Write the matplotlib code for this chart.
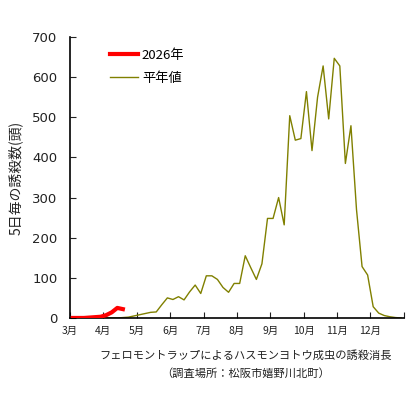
import matplotlib
matplotlib.use("Agg")
import matplotlib.pyplot as plt

plt.rcParams['font.family'] = ['Noto Sans CJK JP', 'DejaVu Sans']

# 半旬(5日)ごと、3月1半旬から12月6半旬まで
months = ['3月', '4月', '5月', '6月', '7月', '8月', '9月', '10月', '11月', '12月']

avg = [0, 0, 0, 0, 0, 0, 0, 0, 0, 1,
       2, 5, 8, 11, 14, 15, 33, 50, 46, 53,
       45, 65, 82, 61, 105, 105, 96, 76, 64, 86,
       86, 155, 125, 96, 135, 248, 248, 300, 232, 504,
       443, 447, 564, 417, 550, 628, 496, 647, 628, 385,
       479, 270, 128, 107, 28, 12, 6, 3, 1, 0]

y2026 = [0, 0, 0, 1, 2, 3, 7, 14, 25, 22]

x_avg = [k + 0.5 for k in range(len(avg))]
x_2026 = [k + 0.5 for k in range(len(y2026))]

fig = plt.figure(figsize=(4.18, 3.94), dpi=100)
ax = fig.add_axes([0.1675, 0.193, 0.7985, 0.713])

ax.plot(x_2026, y2026, color='#ff0000', lw=3.0, label='2026年', zorder=3)
ax.plot(x_avg, avg, color='#808000', lw=1.0, label='平年値', zorder=2)

ax.set_xlim(0, 60)
ax.set_ylim(0, 700)
ax.set_xticks(range(0, 61, 6))
ax.set_xticklabels(months + [''], fontsize=7.5)
ax.set_yticks(range(0, 701, 100))
ax.set_yticklabels([str(v) for v in range(0, 701, 100)], family='DejaVu Sans')
ax.tick_params(axis='y', labelsize=9.5, direction='in', length=4, pad=9, colors='#222222')
ax.tick_params(axis='x', direction='in', length=4, pad=6, colors='#222222')
for s in ['top', 'right']:
    ax.spines[s].set_visible(False)
ax.spines['left'].set_linewidth(1.2)
ax.spines['bottom'].set_linewidth(1.2)

ax.set_ylabel('5日毎の誘殺数(頭)', fontsize=10, color='#222222', labelpad=7)

ax.legend(loc='upper left', bbox_to_anchor=(0.085, 1.0), frameon=False,
          fontsize=9.5, handlelength=2.1, handletextpad=0.3, labelspacing=0.75)

fig.text(0.587, 0.09, 'フェロモントラップによるハスモンヨトウ成虫の誘殺消長',
         ha='center', fontsize=8.1, color='#222222')
fig.text(0.587, 0.043, '（調査場所：松阪市嬉野川北町）',
         ha='center', fontsize=8.1, color='#222222')

fig.savefig('out.png', dpi=100)
